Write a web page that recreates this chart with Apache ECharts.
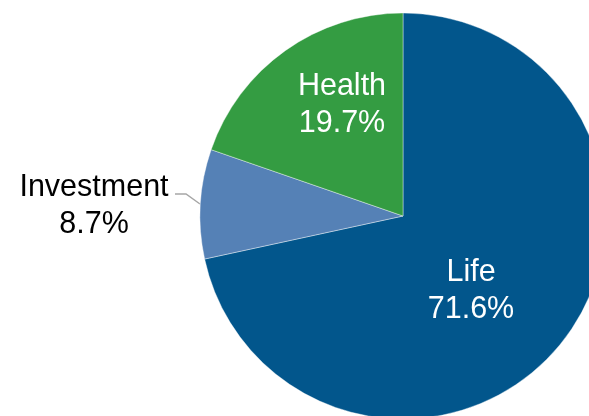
<!DOCTYPE html>
<html><head><meta charset="utf-8">
<script src="https://cdn.jsdelivr.net/npm/echarts@6/dist/echarts.min.js"></script>
<style>html,body{margin:0;padding:0;background:#fff}#c{width:589px;height:416px}</style>
</head><body><div id="c"></div>
<script>
const categories = ['Life', 'Investment', 'Health'];
const shares = [71.6, 8.7, 19.7];
const colors = ['#02568C', '#5581B6', '#349C42'];
const labelColors = ['#ffffff', '#000000', '#ffffff'];
const labelCenters = [[471, 291], [94, 206], [342, 105]];

const chart = echarts.init(document.getElementById('c'), null, {renderer: 'canvas'});
chart.setOption({
  animation: false,
  series: [{
    type: 'pie',
    center: [403, 216],
    radius: 203,
    startAngle: 90,
    clockwise: true,
    silent: true,
    itemStyle: {borderColor: '#ffffff', borderWidth: 0.4},
    label: {
      show: true,
      position: 'inside',
      fontFamily: 'Liberation Sans, Arial, sans-serif',
      fontSize: 30.5,
      lineHeight: 37,
      align: 'center',
      overflow: 'none',
      width: 200,
      formatter: p => p.name + '\n' + p.value.toFixed(1) + '%'
    },
    labelLine: {show: false},
    labelLayout: function (p) {
      const c = labelCenters[p.dataIndex];
      const r = {x: c[0], y: c[1], align: 'center', verticalAlign: 'middle'};
      if (p.dataIndex === 1) {
        r.labelLinePoints = [[200, 204], [186, 194], [175, 194]];
      }
      return r;
    },
    data: categories.map((n, i) => ({
      name: n,
      value: shares[i],
      itemStyle: {color: colors[i]},
      label: {color: labelColors[i], position: i === 1 ? 'outside' : 'inside', overflow: 'none'},
      labelLine: {show: i === 1, lineStyle: {color: '#A6A6A6', width: 1.5}}
    }))
  }]
});
</script></body></html>
